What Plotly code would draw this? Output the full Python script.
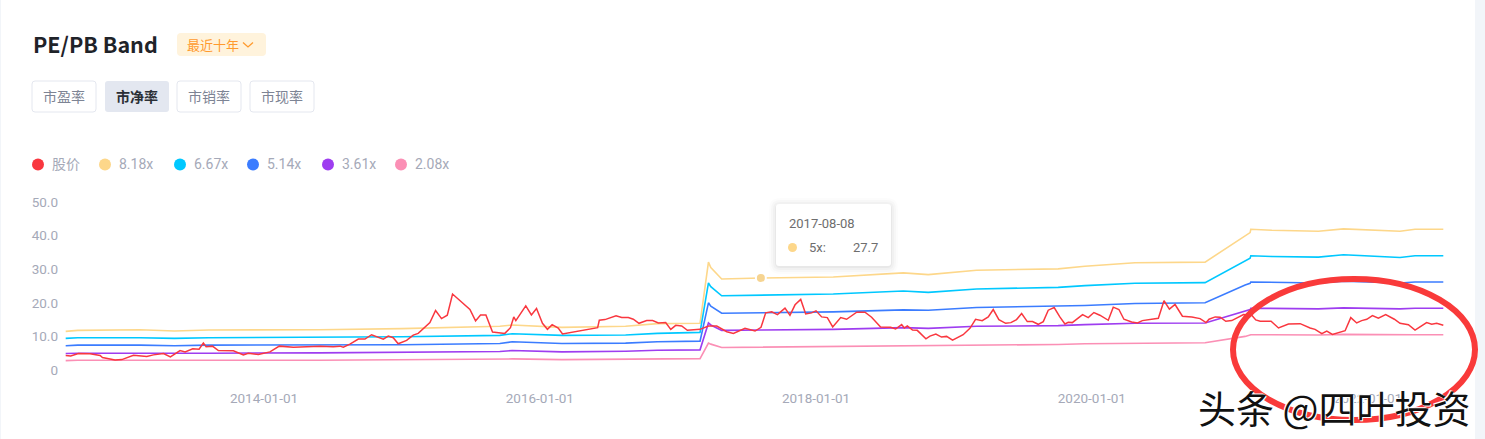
import pandas as pd
import plotly.graph_objects as go

price_years = [
    2012.563, 2012.599, 2012.655, 2012.739, 2012.812, 2012.829, 2012.920, 2012.969,
    2013.053, 2013.150, 2013.198, 2013.271, 2013.321, 2013.391, 2013.428, 2013.483,
    2013.529, 2013.560, 2013.580, 2013.604, 2013.626, 2013.669, 2013.778, 2013.850,
    2013.886, 2013.959, 2014.043, 2014.111, 2014.213, 2014.406, 2014.502, 2014.551,
    2014.575, 2014.623, 2014.684, 2014.732, 2014.780, 2014.865, 2014.901, 2014.937,
    2014.973, 2015.034, 2015.082, 2015.118, 2015.203, 2015.244, 2015.287, 2015.329,
    2015.367, 2015.493, 2015.534, 2015.570, 2015.609, 2015.657, 2015.710, 2015.746,
    2015.787, 2015.811, 2015.826, 2015.898, 2015.939, 2015.976, 2016.019, 2016.055,
    2016.089, 2016.133, 2016.164, 2016.418, 2016.430, 2016.471, 2016.551, 2016.592,
    2016.640, 2016.676, 2016.717, 2016.773, 2016.816, 2016.857, 2016.910, 2016.947,
    2016.983, 2017.026, 2017.067, 2017.159, 2017.220, 2017.280, 2017.353, 2017.401,
    2017.485, 2017.558, 2017.601, 2017.635, 2017.679, 2017.720, 2017.775, 2017.811,
    2017.848, 2017.889, 2017.925, 2017.968, 2018.000, 2018.041, 2018.082, 2018.121,
    2018.179, 2018.222, 2018.295, 2018.355, 2018.403, 2018.468, 2018.541, 2018.577,
    2018.621, 2018.640, 2018.662, 2018.700, 2018.734, 2018.797, 2018.826, 2018.869,
    2018.910, 2018.947, 2018.990, 2019.067, 2019.116, 2019.157, 2019.205, 2019.249,
    2019.285, 2019.326, 2019.375, 2019.413, 2019.454, 2019.491, 2019.532, 2019.570,
    2019.611, 2019.648, 2019.684, 2019.727, 2019.768, 2019.805, 2019.829, 2019.858,
    2019.933, 2019.974, 2020.015, 2020.058, 2020.119, 2020.155, 2020.196, 2020.232,
    2020.288, 2020.331, 2020.365, 2020.421, 2020.481, 2020.522, 2020.561, 2020.602,
    2020.655, 2020.723, 2020.783, 2020.826, 2020.848, 2020.892, 2020.928, 2020.969,
    2021.012, 2021.097, 2021.157, 2021.186, 2021.218, 2021.297, 2021.351, 2021.423,
    2021.508, 2021.580, 2021.616, 2021.665, 2021.701, 2021.742, 2021.785, 2021.834,
    2021.875, 2021.918, 2021.954, 2021.991, 2022.032, 2022.075, 2022.128, 2022.191,
    2022.232, 2022.293, 2022.341, 2022.425, 2022.462, 2022.498, 2022.546,
]
price = [
    4.3, 4.2, 4.9, 4.8, 4.3, 3.7, 3.0, 3.1,
    4.4, 4.0, 4.5, 4.9, 3.9, 5.8, 5.4, 6.3,
    6.2, 8.0, 6.9, 7.1, 7.1, 5.8, 5.7, 4.5,
    5.0, 4.6, 5.4, 7.1, 6.8, 7.1, 6.9, 7.1,
    6.8, 7.7, 9.2, 9.2, 10.5, 9.2, 10.1, 9.6,
    7.8, 8.8, 10.4, 10.9, 14.1, 17.7, 15.3, 16.3,
    22.6, 18.0, 14.6, 16.4, 16.4, 11.3, 11.0, 10.9,
    12.6, 15.8, 14.7, 19.1, 16.4, 18.3, 13.9, 12.1,
    13.5, 12.5, 10.7, 12.6, 14.8, 15.0, 16.1, 15.6,
    15.6, 15.1, 13.9, 14.7, 14.7, 14.0, 14.1, 12.1,
    13.3, 13.1, 11.8, 12.1, 13.1, 13.1, 11.4, 10.9,
    12.4, 11.6, 12.7, 17.0, 17.3, 16.5, 18.4, 16.3,
    19.4, 21.0, 16.7, 17.0, 17.6, 15.8, 15.6, 12.8,
    15.6, 15.1, 17.2, 17.2, 15.7, 12.8, 12.7, 12.2,
    13.5, 12.5, 13.1, 11.9, 11.8, 9.3, 10.1, 10.7,
    9.8, 10.0, 8.9, 10.5, 12.4, 15.1, 14.7, 15.8,
    18.0, 15.0, 13.9, 14.1, 15.0, 16.8, 14.4, 14.4,
    13.6, 14.4, 17.8, 18.6, 15.8, 13.7, 14.2, 14.1,
    16.5, 15.6, 17.1, 16.3, 14.8, 18.7, 18.0, 15.1,
    14.3, 14.0, 14.7, 15.0, 15.4, 20.6, 18.1, 19.5,
    16.0, 15.8, 15.3, 14.1, 15.1, 15.8, 15.7, 14.5,
    14.7, 16.5, 16.3, 14.9, 14.5, 14.5, 12.5, 13.7,
    13.8, 12.5, 12.1, 10.8, 11.6, 10.6, 11.1, 11.7,
    15.6, 14.0, 14.7, 15.1, 16.2, 15.4, 16.5, 15.1,
    13.9, 13.5, 11.9, 14.1, 13.6, 13.9, 13.3,
]

band_years = [
    2012.563, 2012.650, 2013.100, 2013.350, 2013.600, 2014.400, 2015.000, 2015.710,
    2015.800, 2016.160, 2016.620, 2016.850, 2017.159, 2017.220, 2017.237, 2017.316,
    2017.601, 2018.125, 2018.633, 2018.814, 2019.164, 2019.756, 2019.950, 2020.312,
    2020.819, 2021.109, 2021.145, 2021.150, 2021.302, 2021.640, 2021.822, 2022.232,
    2022.341, 2022.546,
]
band_818 = [
    11.5, 11.8, 12.0, 11.6, 11.9, 12.0, 12.3, 13.0, 13.4, 12.7, 13.0, 13.8, 13.9, 32.1, 30.5, 27.1, 27.4,
    27.7, 28.9, 28.4, 29.7, 30.1, 30.9, 31.9, 32.1, 40.1, 40.9, 41.9, 41.6, 41.3, 42.0, 41.3, 41.9, 41.9,
]
band_667 = [
    9.4, 9.6, 9.6, 9.4, 9.6, 9.7, 9.9, 10.3, 10.8, 10.3, 10.4, 10.9, 11.2, 25.9, 24.8, 22.1, 22.3,
    22.6, 23.5, 23.1, 24.1, 24.6, 25.1, 25.8, 26.0, 32.7, 33.3, 34.0, 33.8, 33.6, 34.3, 33.5, 34.0, 34.0,
]
band_514 = [
    7.2, 7.4, 7.4, 7.2, 7.4, 7.4, 7.5, 7.9, 8.4, 7.9, 8.0, 8.4, 8.6, 20.0, 19.0, 16.9, 17.0,
    17.3, 17.9, 17.8, 18.6, 18.9, 19.2, 19.8, 20.0, 25.3, 25.8, 26.2, 26.1, 25.9, 26.4, 25.9, 26.2, 26.2,
]
band_361 = [
    4.9, 5.0, 5.0, 4.9, 5.0, 5.1, 5.3, 5.5, 5.8, 5.4, 5.6, 5.9, 6.0, 14.0, 13.4, 11.8, 11.9,
    12.1, 12.6, 12.4, 13.0, 13.2, 13.5, 13.9, 14.0, 17.7, 18.0, 18.4, 18.3, 18.2, 18.5, 18.2, 18.4, 18.4,
]
band_208 = [
    2.8, 2.9, 2.9, 2.8, 2.9, 2.9, 3.0, 3.2, 3.3, 3.1, 3.2, 3.4, 3.4, 8.0, 7.7, 6.7, 6.8,
    7.0, 7.2, 7.1, 7.4, 7.6, 7.8, 8.0, 8.1, 10.0, 10.3, 10.5, 10.5, 10.4, 10.6, 10.4, 10.5, 10.5,
]

legend_names = ["股价", "8.18x", "6.67x", "5.14x", "3.61x", "2.08x"]
legend_colors = ["#f9373f", "#fdd78a", "#00c8ff", "#3b7cff", "#9e3df0", "#fb8fb5"]
legend_dots = [38, 105, 180, 253, 328, 401]
tab_names = ["市盈率", "市净率", "市销率", "市现率"]
tab_spans = [(32, 96), (105, 169), (177, 241), (250, 314)]
x_ticks = ["2014-01-01", "2016-01-01", "2018-01-01", "2020-01-01", "2022-01-01"]
y_ticks = [0, 10, 20, 30, 40, 50]
y_labels = ["0", "10.0", "20.0", "30.0", "40.0", "50.0"]

tip_date = "2017-08-08"
tip_name = "5x:"
tip_value = "27.7"
tip_line_value = 27.4

GREY = "#a5a9b8"
CJK = "Noto Sans CJK SC"
W, H = 1485, 439
LEFT, RIGHT, TOP, BOTTOM = 65, 1444, 202, 370


def to_dates(years):
    out = []
    for y in years:
        start = pd.Timestamp(year=int(y), month=1, day=1)
        days = 366 if start.is_leap_year else 365
        out.append(start + pd.Timedelta(days=(y - int(y)) * days))
    return out


def px(x):
    return (x - LEFT) / (RIGHT - LEFT)


def py(y):
    return (BOTTOM - y) / (BOTTOM - TOP)


def round_rect(x0, y0, x1, y1, r, fill, line=None, layer="above"):
    # rounded box in page pixels, converted to paper coordinates
    pts = [
        f"M{px(x0 + r)},{py(y0)}", f"L{px(x1 - r)},{py(y0)}",
        f"Q{px(x1)},{py(y0)} {px(x1)},{py(y0 + r)}", f"L{px(x1)},{py(y1 - r)}",
        f"Q{px(x1)},{py(y1)} {px(x1 - r)},{py(y1)}", f"L{px(x0 + r)},{py(y1)}",
        f"Q{px(x0)},{py(y1)} {px(x0)},{py(y1 - r)}", f"L{px(x0)},{py(y0 + r)}",
        f"Q{px(x0)},{py(y0)} {px(x0 + r)},{py(y0)}Z",
    ]
    return dict(type="path", path="".join(pts), xref="paper", yref="paper", fillcolor=fill,
                line=dict(color=line or fill, width=1 if line else 0), layer=layer)


def label(x, y, text, size=13, color=GREY, anchor="left", family=CJK, **kw):
    # annotations carry a little padding, take it off so x is the ink edge
    nudge = {"left": -2, "right": 2, "center": 0}[anchor]
    return dict(xref="paper", yref="paper", x=px(x + nudge), y=py(y), text=text, showarrow=False,
                xanchor=anchor, yanchor="middle", font=dict(size=size, color=color, family=family, **kw))


fig = go.Figure()
band_x = to_dates(band_years)
bands = [band_818, band_667, band_514, band_361, band_208]
for name, color, values in zip(legend_names[1:], legend_colors[1:], bands):
    fig.add_trace(go.Scatter(x=band_x, y=values, mode="lines", name=name,
                             line=dict(color=color, width=1.6), cliponaxis=False))
fig.add_trace(go.Scatter(x=to_dates(price_years), y=price, mode="lines", name=legend_names[0],
                         line=dict(color=legend_colors[0], width=1.5), cliponaxis=False))
fig.add_trace(go.Scatter(x=[tip_date], y=[tip_line_value], mode="markers", showlegend=False,
                         marker=dict(size=10, color="#f6d491", line=dict(color="#ffffff", width=2))))

shapes = []
annotations = []

# page edges
shapes.append(dict(type="rect", xref="paper", yref="paper", x0=px(1475), x1=px(W), y0=py(H), y1=py(0),
                   fillcolor="#f2f5f9", line_width=0, layer="below"))
shapes.append(dict(type="rect", xref="paper", yref="paper", x0=px(0), x1=px(1), y0=py(H), y1=py(0),
                   fillcolor="#f2f5f9", line_width=0, layer="below"))

# header
annotations.append(label(33, 43.5, "<b>PE/PB Band</b>", size=21.5, color="#1f2329"))
shapes.append(round_rect(177, 33, 266, 56, 4, "#fff3dc"))
annotations.append(label(187, 44, "最近十年", size=13, color="#ff9a2e"))
shapes.append(dict(type="path", xref="paper", yref="paper", layer="above",
                   path=f"M{px(243)},{py(42.5)}L{px(248)},{py(47)}L{px(253)},{py(42.5)}",
                   line=dict(color="#ff9a2e", width=1.3)))

# tabs
for i, (name, (x0, x1)) in enumerate(zip(tab_names, tab_spans)):
    active = i == 1
    shapes.append(round_rect(x0, 81, x1, 112, 3, "#e3e7f0" if active else "#ffffff", None if active else "#e4e7ef"))
    annotations.append(label((x0 + x1) / 2, 96, f"<b>{name}</b>" if active else name, size=14,
                             color="#2b2f36" if active else "#7d8494", anchor="center"))

# legend
for name, color, cx in zip(legend_names, legend_colors, legend_dots):
    shapes.append(dict(type="circle", xref="paper", yref="paper", x0=px(cx - 6), x1=px(cx + 6),
                       y0=py(170.5), y1=py(158.5), fillcolor=color, line_width=0))
    annotations.append(label(cx + 13.5, 164, name, size=14, family="Roboto, " + CJK))

# tooltip with a soft shadow
for grow, alpha in [(7, 0.012), (5, 0.018), (3, 0.025), (1, 0.035)]:
    shapes.append(round_rect(776 - grow, 204 - grow + 1, 891 + grow, 266 + grow + 1, 4 + grow,
                             f"rgba(0,0,0,{alpha})"))
shapes.append(round_rect(776, 204, 891, 266, 3, "#ffffff"))
annotations.append(label(789, 223.5, tip_date, size=13, color="#6e6e6e", family="Roboto"))
shapes.append(dict(type="circle", xref="paper", yref="paper", x0=px(788), x1=px(797), y0=py(252), y1=py(243),
                   fillcolor=legend_colors[1], line_width=0))
annotations.append(label(809, 247.5, tip_name, size=13, color="#6e6e6e", family="Roboto"))
annotations.append(label(878, 247.5, tip_value, size=13, color="#6e6e6e", anchor="right", family="Roboto"))

# hand-drawn circle and watermark from the screenshot
shapes.append(dict(type="circle", xref="paper", yref="paper", x0=px(1233), x1=px(1475), y0=py(420), y1=py(279),
                   line=dict(color="#f93a3a", width=6), layer="above"))
annotations.append(label(1334, 406, "头条 @四叶投资", size=38, color="#111111", anchor="center",
                         shadow="1px 1px 0 #fff, -1px -1px 0 #fff"))

fig.update_layout(
    width=W, height=H,
    margin=dict(l=LEFT, r=W - RIGHT, t=TOP, b=H - BOTTOM, autoexpand=False),
    paper_bgcolor="#ffffff", plot_bgcolor="#ffffff",
    showlegend=False, shapes=shapes, annotations=annotations,
    xaxis=dict(type="date", range=to_dates([2012.558, 2022.551]), tickvals=x_ticks, ticktext=x_ticks,
               showgrid=False, zeroline=False, showline=False, ticks="",
               ticklabelstandoff=18, tickfont=dict(size=13.5, color=GREY, family="Roboto")),
    yaxis=dict(range=[0, 50], tickvals=y_ticks, ticktext=y_labels, showgrid=False, zeroline=False,
               showline=False, ticks="", ticklabelstandoff=6,
               tickfont=dict(size=13.5, color=GREY, family="Roboto")),
)
fig.write_html("out.html", config=dict(displayModeBar=False),
               post_script="document.body.style.margin='0';")
